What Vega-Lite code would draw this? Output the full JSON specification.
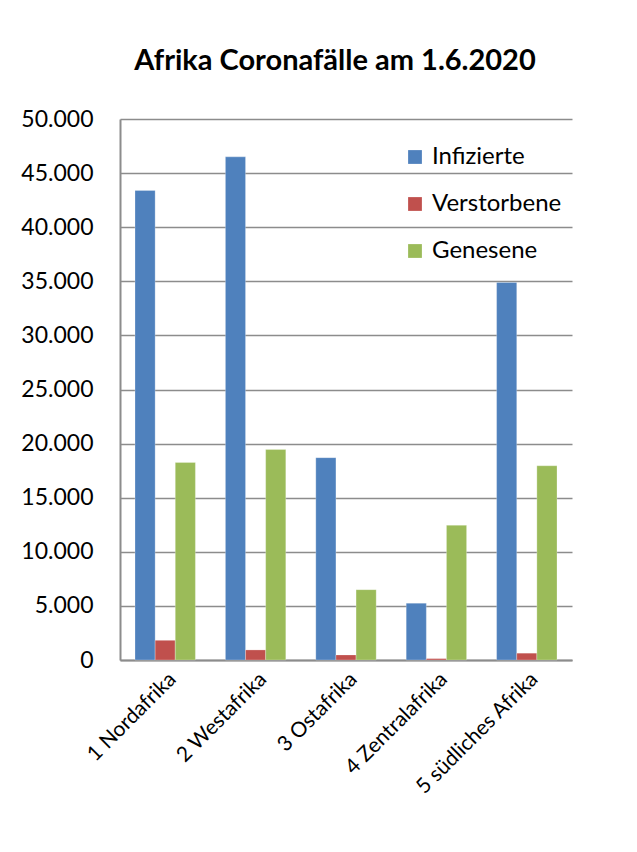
{
  "$schema": "https://vega.github.io/schema/vega-lite/v6.json",
  "autosize": {"type": "none"},
  "padding": {"left": 120, "top": 119, "right": 65, "bottom": 192},
  "width": 452,
  "height": 541,
  "background": "white",
  "config": {
    "font": "Lato",
    "locale": {"number": {"decimal": ",", "thousands": ".", "grouping": [3], "currency": ["", " €"]}},
    "view": {"stroke": null}
  },
  "title": {
    "text": "Afrika Coronafälle am 1.6.2020",
    "fontSize": 29,
    "fontWeight": "bold",
    "font": "Lato",
    "color": "black",
    "anchor": "middle",
    "dx": -11,
    "offset": 32
  },
  "data": {
    "values": [
      {"region": "1 Nordafrika", "serie": "Infizierte", "wert": 43400},
      {"region": "1 Nordafrika", "serie": "Verstorbene", "wert": 1820},
      {"region": "1 Nordafrika", "serie": "Genesene", "wert": 18250},
      {"region": "2 Westafrika", "serie": "Infizierte", "wert": 46500},
      {"region": "2 Westafrika", "serie": "Verstorbene", "wert": 930},
      {"region": "2 Westafrika", "serie": "Genesene", "wert": 19450},
      {"region": "3 Ostafrika", "serie": "Infizierte", "wert": 18700},
      {"region": "3 Ostafrika", "serie": "Verstorbene", "wert": 470},
      {"region": "3 Ostafrika", "serie": "Genesene", "wert": 6500},
      {"region": "4 Zentralafrika", "serie": "Infizierte", "wert": 5250},
      {"region": "4 Zentralafrika", "serie": "Verstorbene", "wert": 130},
      {"region": "4 Zentralafrika", "serie": "Genesene", "wert": 12450},
      {"region": "5 südliches Afrika", "serie": "Infizierte", "wert": 34900},
      {"region": "5 südliches Afrika", "serie": "Verstorbene", "wert": 630},
      {"region": "5 südliches Afrika", "serie": "Genesene", "wert": 17950}
    ]
  },
  "mark": {"type": "bar", "stroke": "white", "strokeOpacity": 0.5, "strokeWidth": 0.5},
  "encoding": {
    "x": {
      "field": "region",
      "type": "nominal",
      "sort": null,
      "scale": {"paddingInner": 0.332, "paddingOuter": 0.166},
      "axis": {
        "title": null,
        "labelAngle": -45,
        "labelAlign": "right",
        "labelBaseline": "top",
        "labelFontSize": 21,
        "labelColor": "black",
        "labelPadding": 8,
        "ticks": false,
        "domainColor": "#8c8c8c",
        "domainWidth": 2
      }
    },
    "xOffset": {
      "field": "serie",
      "type": "nominal",
      "sort": ["Infizierte", "Verstorbene", "Genesene"],
      "scale": {"paddingInner": 0, "paddingOuter": 0}
    },
    "y": {
      "field": "wert",
      "type": "quantitative",
      "scale": {"domain": [0, 50000], "nice": false},
      "axis": {
        "title": null,
        "values": [0, 5000, 10000, 15000, 20000, 25000, 30000, 35000, 40000, 45000, 50000],
        "format": ",.0f",
        "labelFontSize": 23,
        "labelColor": "black",
        "labelPadding": 27,
        "ticks": false,
        "grid": true,
        "gridColor": "#8c8c8c",
        "gridWidth": 1.5,
        "domainColor": "#8c8c8c",
        "domainWidth": 2
      }
    },
    "color": {
      "field": "serie",
      "type": "nominal",
      "sort": ["Infizierte", "Verstorbene", "Genesene"],
      "scale": {"domain": ["Infizierte", "Verstorbene", "Genesene"], "range": ["#4F81BD", "#C0504D", "#9BBB59"]},
      "legend": {
        "title": null,
        "orient": "none",
        "legendX": 283,
        "legendY": 26,
        "symbolType": "square",
        "symbolSize": 190,
        "symbolStrokeWidth": 0,
        "labelFontSize": 24,
        "labelColor": "black",
        "labelOffset": 5,
        "rowPadding": 23
      }
    }
  }
}
